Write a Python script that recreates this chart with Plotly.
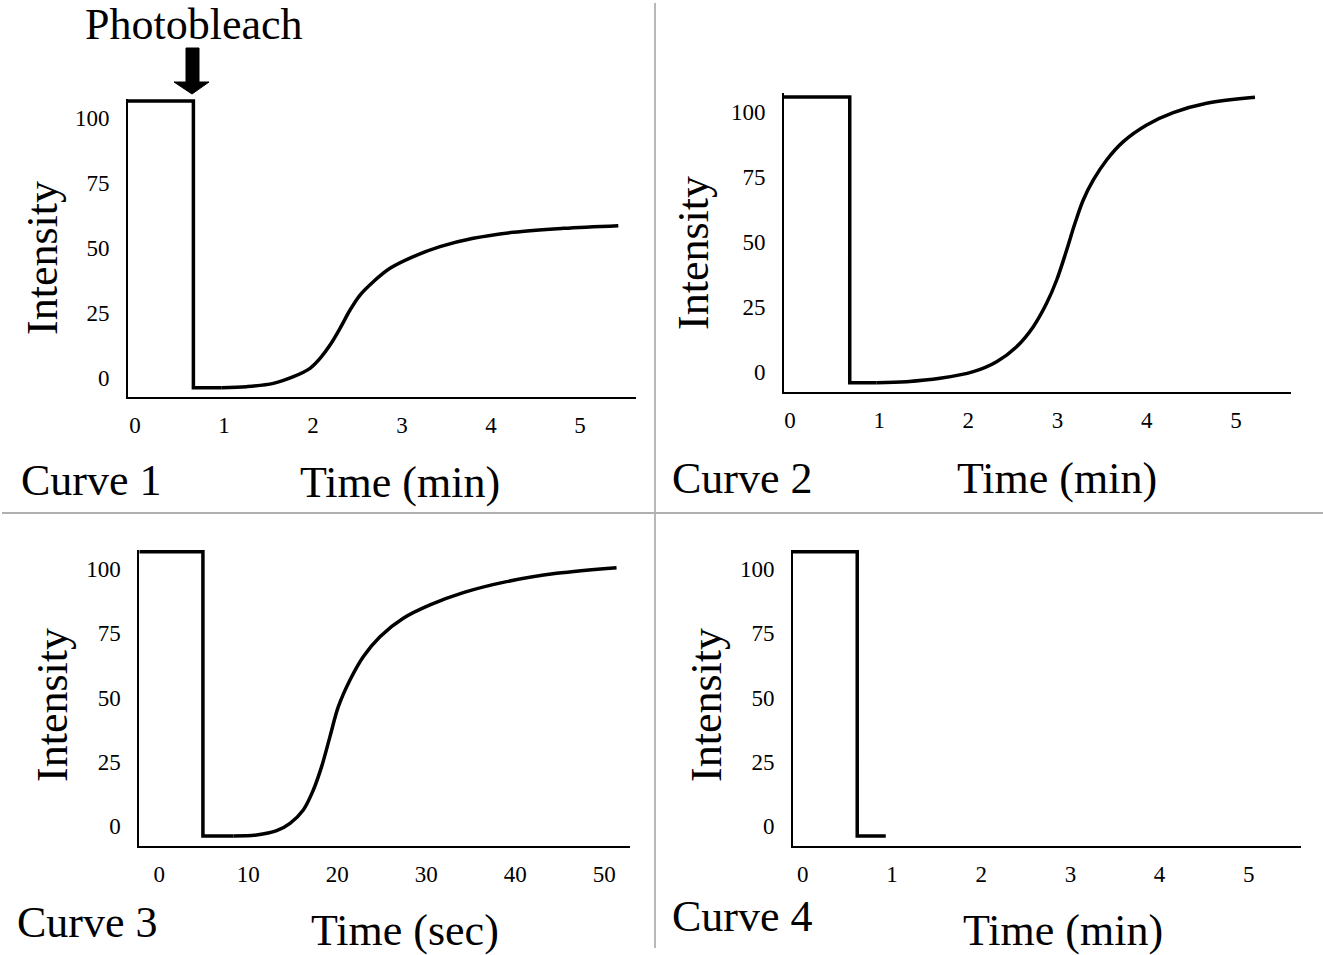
import plotly.graph_objects as go

W, H = 1323, 955
FONT = "Liberation Serif, Times New Roman, serif"

# ---- data ----
c1_step_x = [-0.08, 0.655, 0.655, 0.974]
c1_step_y = [106.5, 106.5, -3.72, -3.72]
c1_rec_x = [0.974, 1.255, 1.554, 1.779, 1.966, 2.079, 2.191, 2.303, 2.416, 2.528, 2.678,
            2.865, 3.127, 3.427, 3.801, 4.251, 4.813, 5.431]
c1_rec_y = [-3.72, -3.33, -2.05, 0.51, 3.72, 7.56, 12.69, 19.10, 26.15, 31.92, 37.05,
            42.18, 46.67, 50.51, 53.72, 56.03, 57.56, 58.59]

c2_step_x = [-0.067, 0.67, 0.67, 0.972]
c2_step_y = [105.8, 105.8, -4.1, -4.1]
c2_rec_x = [0.972, 1.308, 1.682, 2.055, 2.317, 2.541, 2.728, 2.877, 2.990, 3.102, 3.195,
            3.288, 3.401, 3.550, 3.737, 3.999, 4.297, 4.671, 5.213]
c2_rec_y = [-4.10, -3.72, -2.44, 0.13, 3.97, 9.74, 17.44, 26.41, 35.38, 46.92, 57.18,
            66.15, 73.85, 81.54, 88.59, 95.0, 99.74, 103.33, 105.64]

c3_step_x = [-2.25, 4.9, 4.9, 8.32]
c3_step_y = [106.7, 106.7, -3.89, -3.89]
c3_rec_x = [8.32, 10.94, 13.19, 14.69, 16.18, 17.31, 18.24, 19.18, 20.12, 21.43, 22.92,
            24.80, 27.42, 30.42, 34.16, 39.03, 44.65, 51.39]
c3_rec_y = [-3.89, -3.50, -1.82, 1.04, 6.23, 14.01, 23.09, 34.76, 46.43, 56.81, 65.89,
            73.67, 80.80, 85.99, 90.79, 95.07, 98.31, 100.52]

c4_step_x = [-0.11, 0.61, 0.61, 0.93]
c4_step_y = [106.7, 106.7, -3.9, -3.9]

y_ticks = [0, 25, 50, 75, 100]
min_ticks = [0, 1, 2, 3, 4, 5]
sec_ticks = [0, 10, 20, 30, 40, 50]

panel_titles = ["Curve 1", "Curve 2", "Curve 3", "Curve 4"]
x_titles = ["Time (min)", "Time (min)", "Time (sec)", "Time (min)"]
y_title = "Intensity"

# ---- layout helpers (pixel -> paper) ----
def px(x):
    return x / W

def py(y):
    return 1 - y / H

panels = [
    dict(xd=(128, 636), yd=(98.5, 397), xr=(-0.08, 5.63), yr=(-7.3, 107.5), xt=min_ticks),
    dict(xd=(784, 1291), yd=(92.5, 392), xr=(-0.067, 5.617), yr=(-7.7, 107.5), xt=min_ticks),
    dict(xd=(139.3, 630), yd=(549.7, 846), xr=(-2.25, 52.9), yr=(-7.8, 107.5), xt=sec_ticks),
    dict(xd=(793, 1300.5), yd=(549.7, 846), xr=(-0.11, 5.58), yr=(-7.8, 107.5), xt=min_ticks),
]

fig = go.Figure()
line = dict(color="black", width=3.5)
series = [
    (c1_step_x, c1_step_y, c1_rec_x, c1_rec_y),
    (c2_step_x, c2_step_y, c2_rec_x, c2_rec_y),
    (c3_step_x, c3_step_y, c3_rec_x, c3_rec_y),
    (c4_step_x, c4_step_y, None, None),
]
for i, (sx, sy, rx, ry) in enumerate(series):
    xa = "x" if i == 0 else f"x{i+1}"
    ya = "y" if i == 0 else f"y{i+1}"
    fig.add_trace(go.Scatter(x=sx, y=sy, mode="lines", line=line, xaxis=xa, yaxis=ya,
                             showlegend=False, hoverinfo="skip"))
    if rx is not None:
        fig.add_trace(go.Scatter(x=rx, y=ry, mode="lines",
                                 line=dict(color="black", width=3.5, shape="spline", smoothing=1.0),
                                 xaxis=xa, yaxis=ya, showlegend=False, hoverinfo="skip"))

layout = dict(
    width=W, height=H, autosize=False,
    margin=dict(l=0, r=0, t=0, b=0, pad=0),
    paper_bgcolor="white", plot_bgcolor="white",
    font=dict(family=FONT, color="black"),
    showlegend=False,
)
for i, p in enumerate(panels):
    n = "" if i == 0 else str(i + 1)
    layout[f"xaxis{n}"] = dict(
        domain=[px(p["xd"][0]), px(p["xd"][1])], range=list(p["xr"]),
        anchor=f"y{n}", showgrid=False, zeroline=False,
        showline=True, linecolor="black", linewidth=2,
        tickmode="array", tickvals=p["xt"], ticks="",
        ticklabelstandoff=6, tickfont=dict(family=FONT, size=23, color="black"),
    )
    layout[f"yaxis{n}"] = dict(
        domain=[py(p["yd"][1]), py(p["yd"][0])], range=list(p["yr"]),
        anchor=f"x{n}", showgrid=False, zeroline=False,
        showline=True, linecolor="black", linewidth=2,
        tickmode="array", tickvals=y_ticks, ticks="",
        ticklabelstandoff=12, tickfont=dict(family=FONT, size=23, color="black"),
    )
fig.update_layout(**layout)

ann = []
def text(t, x, y, size, xanchor="center", angle=0):
    ann.append(dict(text=t, x=px(x), y=py(y), xref="paper", yref="paper",
                    xanchor=xanchor, yanchor="middle", showarrow=False, textangle=angle,
                    font=dict(family=FONT, size=size, color="black")))

text("Photobleach", 194, 25, 44)
title_pos = [(19, 480), (670, 478), (15, 922), (670, 916)]
xtitle_pos = [(400, 482), (1057, 478), (405, 930), (1063, 930)]
ytitle_pos = [(42, 258), (694, 253), (52, 705), (706, 705)]
for i in range(4):
    text(panel_titles[i], title_pos[i][0], title_pos[i][1], 44, xanchor="left")
    text(x_titles[i], xtitle_pos[i][0], xtitle_pos[i][1], 44)
    text(y_title, ytitle_pos[i][0], ytitle_pos[i][1], 44, angle=-90)
fig.update_layout(annotations=ann)

# arrow (photobleach marker) and panel dividers
arrow = (f"M {px(186)} {py(48)} L {px(199)} {py(48)} L {px(199)} {py(82)} "
         f"L {px(209)} {py(82)} L {px(192)} {py(94)} L {px(174)} {py(82)} "
         f"L {px(186)} {py(82)} Z")
shapes = [
    dict(type="path", path=arrow, xref="paper", yref="paper",
         fillcolor="black", line=dict(color="black", width=1)),
    dict(type="line", xref="paper", yref="paper", x0=px(655), x1=px(655), y0=py(3), y1=py(948),
         line=dict(color="#a0a0a0", width=1.5)),
    dict(type="line", xref="paper", yref="paper", x0=px(2), x1=px(1323), y0=py(513), y1=py(513),
         line=dict(color="#b0b0b0", width=2)),
]
fig.update_layout(shapes=shapes)

fig.write_html("out.html", config={"displayModeBar": False},
               post_script="document.body.style.margin='0';")
